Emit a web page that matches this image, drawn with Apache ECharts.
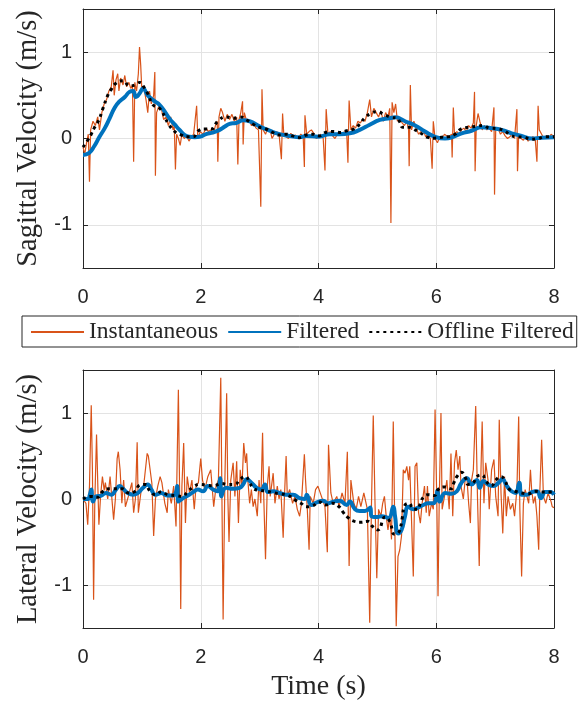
<!DOCTYPE html>
<html>
<head>
<meta charset="utf-8">
<script src="https://cdn.jsdelivr.net/npm/echarts@6/dist/echarts.min.js"></script>
<style>html,body{margin:0;padding:0;background:#fff}#c{width:586px;height:702px}</style>
</head>
<body>
<div id="c"></div>
<script>
// x ticks and y ticks
const xTicks = [0, 2, 4, 6, 8];
const yTicks = [-1, 0, 1];
const seriesNames = ['Instantaneous', 'Filtered', 'Offline Filtered'];
const yNames = ['Sagittal Velocity (m/s)', 'Lateral Velocity (m/s)'];
const xName = 'Time (s)';

// Sagittal velocity: [time (s), value (m/s)]
const sagInst = [[0.00,-0.10],[0.03,-0.18],[0.06,-0.05],[0.09,0.05],[0.11,-0.50],[0.13,0.10],[0.17,0.20],[0.21,0.15],[0.25,0.25],[0.28,0.10],[0.32,0.30],[0.36,0.40],[0.40,0.45],[0.44,0.55],[0.48,0.60],[0.51,0.79],[0.53,0.50],[0.56,0.68],[0.59,0.75],[0.61,0.55],[0.64,0.70],[0.68,0.62],[0.71,0.73],[0.74,0.60],[0.78,0.65],[0.81,0.58],[0.84,0.62],[0.86,-0.27],[0.88,0.65],[0.91,0.55],[0.94,0.75],[0.96,1.06],[0.98,0.85],[1.00,0.55],[1.03,0.60],[1.07,0.45],[1.10,0.30],[1.13,0.55],[1.16,0.40],[1.20,0.50],[1.22,0.77],[1.23,-0.43],[1.25,0.30],[1.29,0.38],[1.33,0.35],[1.37,0.22],[1.41,0.25],[1.45,0.15],[1.49,0.25],[1.53,0.10],[1.55,0.15],[1.57,-0.36],[1.59,0.05],[1.62,0.00],[1.65,-0.08],[1.68,0.05],[1.72,0.00],[1.76,0.03],[1.80,-0.03],[1.84,0.02],[1.88,0.05],[1.93,0.38],[1.95,0.00],[1.99,0.08],[2.04,0.05],[2.09,0.12],[2.13,0.08],[2.17,0.10],[2.21,0.05],[2.25,0.15],[2.28,0.20],[2.29,-0.27],[2.31,0.25],[2.34,0.35],[2.37,0.30],[2.41,0.20],[2.45,0.28],[2.49,0.22],[2.53,0.28],[2.57,0.20],[2.61,0.25],[2.63,-0.30],[2.65,0.22],[2.68,0.30],[2.71,0.43],[2.72,-0.07],[2.74,0.30],[2.78,0.20],[2.82,0.22],[2.86,0.15],[2.90,0.18],[2.94,0.12],[2.98,0.10],[3.02,-0.79],[3.04,0.57],[3.06,0.10],[3.10,0.05],[3.14,0.12],[3.18,0.10],[3.21,0.00],[3.25,0.05],[3.29,0.08],[3.33,0.05],[3.37,-0.24],[3.39,0.29],[3.41,0.05],[3.45,0.02],[3.49,0.00],[3.53,0.06],[3.57,0.02],[3.61,0.04],[3.65,0.00],[3.70,0.05],[3.74,0.02],[3.76,-0.33],[3.77,0.27],[3.80,0.05],[3.84,0.08],[3.88,0.10],[3.92,0.06],[3.96,0.00],[4.00,0.02],[4.04,0.05],[4.08,0.00],[4.11,-0.37],[4.13,0.34],[4.16,0.05],[4.20,0.08],[4.24,0.03],[4.28,0.00],[4.32,0.05],[4.36,0.07],[4.40,0.04],[4.44,0.08],[4.48,0.05],[4.50,-0.28],[4.52,0.44],[4.55,0.10],[4.59,0.15],[4.63,0.12],[4.67,0.20],[4.71,0.18],[4.75,0.22],[4.79,0.20],[4.83,0.30],[4.87,0.45],[4.90,0.25],[4.94,0.35],[4.98,0.30],[5.02,0.25],[5.06,0.32],[5.10,0.20],[5.14,0.30],[5.18,0.25],[5.21,0.35],[5.23,-0.98],[5.25,0.42],[5.28,0.30],[5.31,0.40],[5.34,0.20],[5.38,0.25],[5.42,0.18],[5.46,0.15],[5.50,0.20],[5.53,0.10],[5.54,-0.32],[5.56,0.62],[5.58,0.10],[5.62,0.20],[5.66,0.12],[5.70,0.05],[5.74,0.08],[5.78,0.10],[5.82,0.02],[5.86,0.05],[5.90,0.00],[5.93,-0.35],[5.95,0.20],[5.98,0.00],[6.02,-0.05],[6.06,0.02],[6.10,0.00],[6.14,0.05],[6.18,0.03],[6.22,0.02],[6.26,0.05],[6.27,-0.22],[6.29,0.36],[6.31,0.05],[6.35,0.08],[6.39,0.05],[6.43,0.10],[6.47,0.12],[6.51,0.08],[6.55,0.15],[6.59,0.12],[6.63,0.18],[6.65,0.54],[6.66,-0.38],[6.68,0.15],[6.71,0.29],[6.74,0.20],[6.78,0.10],[6.82,0.15],[6.86,0.10],[6.90,0.12],[6.94,0.08],[6.98,0.36],[6.99,-0.65],[7.01,0.10],[7.05,0.12],[7.09,0.05],[7.13,0.08],[7.17,0.03],[7.21,0.00],[7.25,0.02],[7.29,0.05],[7.33,0.00],[7.37,0.34],[7.38,-0.38],[7.40,0.05],[7.44,0.00],[7.48,-0.02],[7.52,0.02],[7.56,-0.03],[7.60,0.00],[7.64,0.02],[7.68,0.00],[7.71,-0.27],[7.73,0.38],[7.75,0.10],[7.79,0.05],[7.83,0.00],[7.87,0.03],[7.91,0.00],[7.95,0.05],[8.00,0.02]];
const sagFilt = [[0,-0.19],[0.1,-0.17],[0.19,-0.09],[0.28,0.02],[0.37,0.12],[0.45,0.23],[0.54,0.36],[0.62,0.43],[0.71,0.48],[0.79,0.54],[0.85,0.55],[0.90,0.48],[0.96,0.52],[1.02,0.58],[1.10,0.50],[1.22,0.43],[1.30,0.39],[1.39,0.31],[1.47,0.23],[1.56,0.16],[1.64,0.10],[1.73,0.04],[1.81,0.02],[1.90,0.015],[1.98,0.02],[2.09,0.05],[2.21,0.07],[2.32,0.10],[2.41,0.14],[2.49,0.17],[2.60,0.18],[2.72,0.21],[2.83,0.20],[3.0,0.14],[3.17,0.09],[3.34,0.05],[3.51,0.03],[3.68,0.015],[3.79,0.03],[4.0,0.02],[4.19,0.05],[4.36,0.05],[4.53,0.06],[4.70,0.10],[4.87,0.16],[5.04,0.215],[5.21,0.235],[5.30,0.245],[5.47,0.20],[5.64,0.15],[5.81,0.08],[5.98,0.02],[6.15,0.0],[6.29,0.02],[6.43,0.06],[6.60,0.09],[6.77,0.13],[6.94,0.12],[7.11,0.10],[7.28,0.06],[7.45,0.03],[7.62,0.0],[7.79,0.01],[8.0,0.015]];
const sagOff = [[0,-0.10],[0.08,-0.02],[0.14,0.05],[0.19,0.12],[0.26,0.20],[0.34,0.35],[0.42,0.50],[0.48,0.57],[0.56,0.64],[0.68,0.67],[0.79,0.61],[0.88,0.62],[0.96,0.65],[1.05,0.58],[1.10,0.52],[1.19,0.39],[1.30,0.35],[1.39,0.25],[1.44,0.18],[1.56,0.08],[1.67,0.04],[1.76,0.02],[1.87,0.02],[1.96,0.09],[2.07,0.11],[2.18,0.11],[2.29,0.20],[2.43,0.25],[2.56,0.235],[2.67,0.25],[2.78,0.215],[2.89,0.165],[2.99,0.13],[3.11,0.11],[3.22,0.07],[3.33,0.04],[3.45,0.05],[3.56,0.03],[3.67,0.01],[3.79,0.04],[3.90,0.05],[4.01,0.03],[4.12,0.07],[4.25,0.08],[4.36,0.07],[4.48,0.09],[4.60,0.11],[4.70,0.165],[4.78,0.235],[4.88,0.285],[5.0,0.31],[5.11,0.28],[5.23,0.245],[5.34,0.235],[5.38,0.19],[5.43,0.13],[5.53,0.13],[5.64,0.10],[5.74,0.06],[5.85,0.015],[5.97,0.004],[6.09,0.015],[6.20,0.02],[6.32,0.05],[6.42,0.11],[6.54,0.13],[6.67,0.14],[6.79,0.15],[6.91,0.12],[7.02,0.115],[7.15,0.09],[7.26,0.04],[7.36,0.02],[7.49,0.015],[7.61,-0.01],[7.73,0.0],[7.85,0.02],[8.0,0.02]];

// Lateral velocity: [time (s), value (m/s)]
const latInst = [[0.00,0.00],[0.05,-0.05],[0.08,-0.30],[0.11,0.15],[0.14,1.09],[0.16,0.34],[0.18,-1.17],[0.20,-0.05],[0.23,0.75],[0.25,0.20],[0.27,-0.30],[0.30,0.05],[0.33,0.26],[0.36,0.10],[0.38,0.19],[0.42,0.00],[0.46,0.26],[0.49,0.26],[0.52,-0.24],[0.55,0.00],[0.58,0.47],[0.60,0.55],[0.63,0.34],[0.66,-0.05],[0.69,0.22],[0.72,-0.09],[0.77,0.03],[0.83,0.19],[0.86,-0.16],[0.89,0.00],[0.92,0.66],[0.94,-0.16],[0.99,0.11],[1.03,0.15],[1.06,0.34],[1.09,0.53],[1.11,0.50],[1.14,0.34],[1.17,0.18],[1.20,-0.43],[1.23,0.00],[1.27,0.15],[1.31,0.26],[1.34,0.19],[1.39,-0.05],[1.43,-0.16],[1.45,0.11],[1.50,-0.05],[1.54,0.15],[1.58,-0.32],[1.62,1.27],[1.64,0.15],[1.66,-1.28],[1.68,0.15],[1.71,0.65],[1.74,-0.28],[1.77,0.26],[1.81,0.07],[1.85,0.22],[1.89,-0.12],[1.92,0.15],[1.96,0.19],[2.00,0.47],[2.03,0.22],[2.07,0.11],[2.12,0.26],[2.17,0.34],[2.22,-0.09],[2.26,0.15],[2.30,0.22],[2.34,1.41],[2.36,0.00],[2.38,-1.40],[2.41,0.22],[2.44,1.23],[2.46,0.03],[2.48,-0.50],[2.51,0.22],[2.55,0.42],[2.58,0.03],[2.61,0.44],[2.64,-0.28],[2.67,0.34],[2.70,0.13],[2.73,0.65],[2.76,0.42],[2.78,0.53],[2.80,0.22],[2.83,-0.05],[2.86,0.11],[2.89,-0.09],[2.92,0.00],[2.96,-0.20],[2.99,0.22],[3.02,-0.05],[3.05,0.77],[3.07,0.03],[3.10,-0.70],[3.13,0.15],[3.16,0.38],[3.18,0.03],[3.23,0.30],[3.26,-0.05],[3.30,0.15],[3.33,0.00],[3.36,0.11],[3.40,-0.45],[3.42,0.00],[3.45,0.50],[3.47,0.03],[3.51,0.11],[3.56,-0.05],[3.60,0.03],[3.64,-0.12],[3.68,-0.20],[3.71,-0.05],[3.76,0.52],[3.78,0.22],[3.81,-0.12],[3.84,-0.59],[3.86,0.03],[3.91,-0.05],[3.95,0.11],[3.99,0.15],[4.05,0.03],[4.11,-0.09],[4.15,-0.62],[4.17,0.63],[4.21,0.07],[4.25,-0.05],[4.31,0.03],[4.35,-0.09],[4.40,0.07],[4.45,-0.05],[4.49,0.55],[4.52,-0.78],[4.55,0.22],[4.60,-0.05],[4.64,-0.12],[4.68,0.03],[4.72,-0.09],[4.77,0.07],[4.83,-0.12],[4.87,-1.44],[4.90,-0.05],[4.93,0.97],[4.96,-0.05],[4.99,-0.92],[5.02,-0.12],[5.06,-0.20],[5.09,-0.05],[5.12,0.03],[5.15,-0.20],[5.18,-0.36],[5.21,-0.20],[5.24,-0.47],[5.27,0.90],[5.30,-0.51],[5.32,-1.48],[5.35,-0.67],[5.38,-0.59],[5.41,-0.43],[5.44,0.34],[5.47,0.30],[5.50,0.38],[5.53,0.22],[5.55,0.38],[5.58,-0.24],[5.61,-0.90],[5.64,0.38],[5.67,0.42],[5.70,-0.16],[5.73,-0.28],[5.76,-0.05],[5.80,0.15],[5.83,-0.16],[5.85,0.15],[5.88,-0.20],[5.92,-0.05],[5.95,-0.12],[5.98,1.04],[6.01,-0.05],[6.03,-1.13],[6.05,-0.05],[6.08,1.00],[6.10,-0.12],[6.14,0.03],[6.18,0.22],[6.22,-0.12],[6.25,0.53],[6.28,-0.20],[6.31,0.42],[6.34,0.57],[6.37,0.34],[6.40,0.50],[6.42,0.15],[6.46,0.00],[6.49,0.22],[6.52,0.26],[6.55,-0.05],[6.58,-0.28],[6.60,0.22],[6.63,0.34],[6.67,1.08],[6.70,0.03],[6.73,-0.78],[6.76,0.34],[6.78,0.90],[6.81,-0.05],[6.84,0.42],[6.88,0.22],[6.90,-0.12],[6.94,0.34],[6.98,0.46],[7.01,0.03],[7.05,-0.20],[7.07,0.92],[7.10,0.07],[7.13,-0.40],[7.16,0.26],[7.19,-0.20],[7.22,0.03],[7.26,-0.12],[7.30,-0.05],[7.33,-0.20],[7.37,0.11],[7.40,0.96],[7.42,-0.12],[7.45,-0.90],[7.48,-0.05],[7.51,0.11],[7.54,0.03],[7.57,-0.05],[7.60,0.34],[7.62,0.11],[7.65,-0.05],[7.68,0.03],[7.71,-0.20],[7.74,-0.59],[7.76,0.10],[7.79,0.69],[7.82,0.03],[7.86,-0.05],[7.90,0.07],[7.95,-0.03],[7.97,-0.09],[8.00,-0.10]];
const latFilt = [[0,0.0],[0.08,0.0],[0.12,0.06],[0.14,0.11],[0.17,-0.03],[0.22,0.03],[0.31,0.04],[0.39,0.07],[0.48,0.05],[0.56,0.11],[0.62,0.15],[0.68,0.12],[0.76,0.07],[0.85,0.05],[0.93,0.07],[1.02,0.13],[1.10,0.17],[1.16,0.11],[1.23,0.05],[1.33,0.07],[1.43,0.04],[1.53,0.04],[1.58,0.08],[1.60,0.15],[1.62,-0.03],[1.70,0.01],[1.78,0.04],[1.87,0.08],[1.95,0.11],[2.04,0.09],[2.12,0.15],[2.21,0.11],[2.28,0.09],[2.31,0.15],[2.33,0.24],[2.35,0.03],[2.43,0.13],[2.55,0.12],[2.66,0.13],[2.72,0.17],[2.78,0.23],[2.86,0.19],[2.95,0.13],[3.03,0.11],[3.09,0.17],[3.14,0.08],[3.23,0.09],[3.34,0.07],[3.45,0.05],[3.57,0.05],[3.68,0.01],[3.77,0.0],[3.80,0.05],[3.88,-0.07],[3.97,-0.04],[4.08,-0.02],[4.16,-0.05],[4.25,-0.03],[4.36,-0.02],[4.48,-0.07],[4.53,-0.03],[4.62,-0.12],[4.70,-0.14],[4.79,-0.14],[4.88,-0.10],[4.90,-0.20],[4.99,-0.21],[5.07,-0.20],[5.19,-0.22],[5.27,-0.09],[5.30,-0.20],[5.35,-0.40],[5.41,-0.36],[5.47,-0.20],[5.52,-0.09],[5.61,-0.12],[5.69,-0.10],[5.78,-0.07],[5.86,-0.05],[5.95,-0.05],[6.00,0.02],[6.02,0.10],[6.06,-0.03],[6.15,0.07],[6.26,0.06],[6.35,0.09],[6.43,0.19],[6.52,0.24],[6.60,0.17],[6.69,0.22],[6.74,0.13],[6.80,0.21],[6.88,0.17],[6.97,0.15],[7.06,0.19],[7.12,0.23],[7.20,0.15],[7.28,0.09],[7.35,0.07],[7.41,0.19],[7.45,0.05],[7.54,0.05],[7.62,0.08],[7.71,0.09],[7.78,0.01],[7.85,0.08],[7.94,0.08],[8.0,0.05]];
const latOff = [[0,0],[0.14,0.03],[0.25,0.02],[0.33,0.085],[0.45,0.12],[0.56,0.12],[0.67,0.12],[0.77,0.07],[0.89,0.09],[0.95,0.155],[1.06,0.17],[1.13,0.10],[1.23,0.05],[1.33,0.085],[1.44,0.05],[1.57,0.04],[1.69,0.03],[1.77,0.08],[1.87,0.135],[1.98,0.17],[2.11,0.16],[2.22,0.155],[2.35,0.18],[2.46,0.17],[2.58,0.17],[2.67,0.23],[2.76,0.26],[2.83,0.19],[2.90,0.12],[3.01,0.10],[3.13,0.09],[3.25,0.07],[3.37,0.06],[3.49,0.04],[3.60,-0.01],[3.70,-0.05],[3.80,-0.09],[3.90,-0.08],[4.01,-0.035],[4.12,-0.07],[4.24,-0.05],[4.35,-0.09],[4.42,-0.155],[4.49,-0.21],[4.61,-0.26],[4.72,-0.27],[4.83,-0.26],[4.92,-0.32],[5.01,-0.36],[5.13,-0.21],[5.21,-0.26],[5.29,-0.41],[5.36,-0.39],[5.40,-0.31],[5.42,-0.23],[5.47,-0.07],[5.54,-0.05],[5.61,-0.12],[5.68,-0.12],[5.73,-0.05],[5.78,0.02],[5.86,0.05],[5.97,0.04],[6.03,0.11],[6.14,0.14],[6.25,0.12],[6.30,0.19],[6.35,0.26],[6.43,0.31],[6.50,0.24],[6.54,0.17],[6.63,0.19],[6.69,0.26],[6.78,0.28],[6.84,0.21],[6.94,0.155],[7.01,0.22],[7.10,0.26],[7.17,0.21],[7.23,0.12],[7.34,0.09],[7.45,0.07],[7.57,0.06],[7.68,0.09],[7.81,0.08],[7.93,0.08],[8.0,0.08]];

const AX = '#262626';
const GRIDC = '#e3e3e3';
const TICKF = 'Liberation Sans';
const SERIF = 'Liberation Serif';
const COL = ['#D95319', '#0072BD', '#000000'];

function xAxes(gi, showName) {
  return [{
    gridIndex: gi, type: 'value', min: xTicks[0], max: xTicks[xTicks.length - 1], interval: 2, position: 'bottom',
    axisLine: { show: true, onZero: false, lineStyle: { color: AX, width: 1 } },
    axisTick: { show: true, inside: true, length: 5, lineStyle: { color: AX } },
    axisLabel: { show: true, margin: 19, fontFamily: TICKF, fontSize: 20, color: AX },
    splitLine: { show: true, lineStyle: { color: GRIDC, width: 1 } },
    name: showName ? xName : '', nameLocation: 'middle', nameGap: 45,
    nameTextStyle: { fontFamily: SERIF, fontSize: 28, color: AX }
  }, {
    gridIndex: gi, type: 'value', min: xTicks[0], max: xTicks[xTicks.length - 1], interval: 2, position: 'top',
    axisLine: { show: true, onZero: false, lineStyle: { color: AX, width: 1 } },
    axisTick: { show: true, inside: true, length: 5, lineStyle: { color: AX } },
    axisLabel: { show: false }, splitLine: { show: false }
  }];
}
function yAxes(gi) {
  return [{
    gridIndex: gi, type: 'value', min: -1.5, max: 1.5, position: 'left',
    axisLine: { show: true, onZero: false, lineStyle: { color: AX, width: 1 } },
    axisTick: { show: true, inside: true, length: 5, lineStyle: { color: AX }, customValues: yTicks },
    axisLabel: { show: true, margin: 11, fontFamily: TICKF, fontSize: 20, color: AX, customValues: yTicks },
    splitLine: { show: true, lineStyle: { color: GRIDC, width: 1 } },
    name: yNames[gi], nameLocation: 'middle', nameGap: 39,
    nameTextStyle: { fontFamily: SERIF, fontSize: 28.5, color: AX }
  }, {
    gridIndex: gi, type: 'value', min: -1.5, max: 1.5, position: 'right',
    axisLine: { show: true, onZero: false, lineStyle: { color: AX, width: 1 } },
    axisTick: { show: true, inside: true, length: 5, lineStyle: { color: AX }, customValues: yTicks },
    axisLabel: { show: false }, splitLine: { show: false }
  }];
}
function mkSeries(gi, inst, filt, off) {
  const xi = gi * 2, yi = gi * 2;
  return [
    { name: seriesNames[0], type: 'line', xAxisIndex: xi, yAxisIndex: yi, data: inst, symbol: 'none', smooth: false,
      lineStyle: { color: COL[0], width: 1.2 }, itemStyle: { color: COL[0] }, z: 2 },
    { name: seriesNames[1], type: 'line', xAxisIndex: xi, yAxisIndex: yi, data: filt, symbol: 'none', smooth: true,
      lineStyle: { color: COL[1], width: 4 }, itemStyle: { color: COL[1] }, z: 3 },
    { name: seriesNames[2], type: 'line', xAxisIndex: xi, yAxisIndex: yi, data: off, symbol: 'none', smooth: true,
      lineStyle: { color: COL[2], width: 3, type: [3, 4], cap: 'butt' }, itemStyle: { color: COL[2] }, z: 4 }
  ];
}

const chart = echarts.init(document.getElementById('c'), null, { renderer: 'canvas', width: 586, height: 702 });
chart.setOption({
  animation: false,
  backgroundColor: '#ffffff',
  grid: [
    { left: 83, top: 9, right: 32, height: 259, containLabel: false },
    { left: 83, top: 370, right: 32, height: 258, containLabel: false }
  ],
  xAxis: [...xAxes(0, false), ...xAxes(1, true)],
  yAxis: [...yAxes(0), ...yAxes(1)],
  legend: {
    left: 22, top: 316, width: 580, orient: 'horizontal',
    padding: [4, 3, 3, 8], itemGap: 9, itemWidth: 53, itemHeight: 14,
    borderColor: AX, borderWidth: 1, backgroundColor: '#fff',
    itemStyle: { color: 'rgba(0,0,0,0)', borderColor: 'rgba(0,0,0,0)', borderWidth: 0, opacity: 0 },
    textStyle: { fontFamily: SERIF, fontSize: 23.5, color: AX },
    data: seriesNames
  },
  series: [...mkSeries(0, sagInst, sagFilt, sagOff), ...mkSeries(1, latInst, latFilt, latOff)]
});
</script>
</body>
</html>
